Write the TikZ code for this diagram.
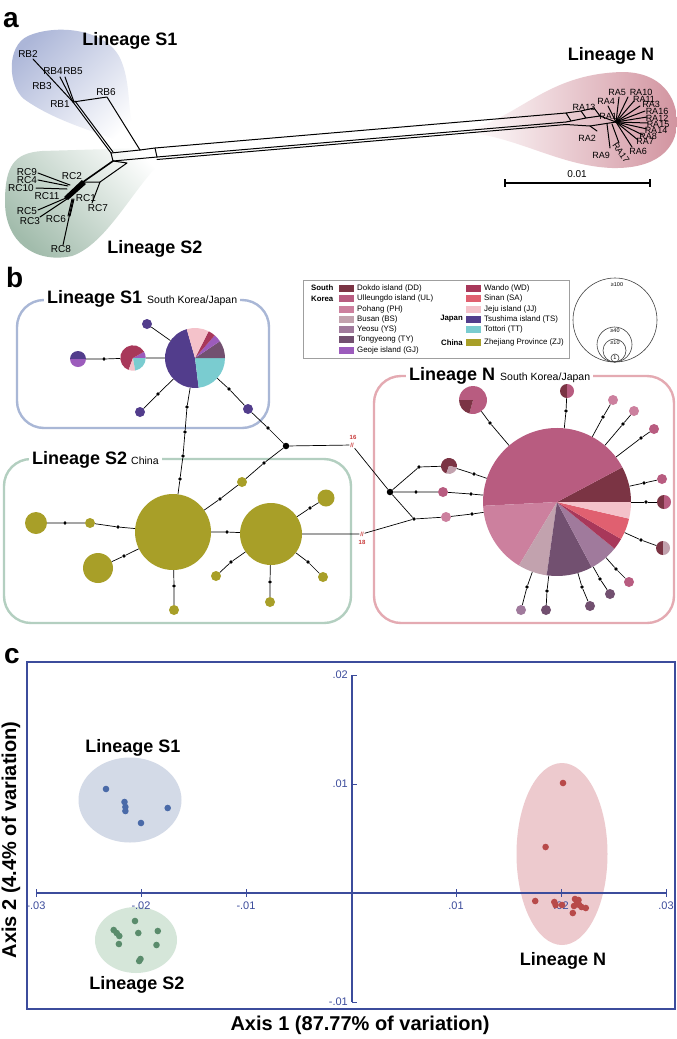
\documentclass[tikz,border=0pt]{standalone}
\usepackage{fontspec}
\setmainfont{Liberation Sans}
\usepackage{graphicx}
\newcommand\fs[1]{\fontsize{#1}{#1}\selectfont}
\newcommand\pslice[5]{\fill[#5] (#1.center) -- ++({-(#3)}:#2) arc[start angle={-(#3)}, end angle={-(#4)}, radius=#2] -- cycle;}
\definecolor{cDD}{HTML}{7B3444}
\definecolor{cUL}{HTML}{B85C80}
\definecolor{cPH}{HTML}{CC809E}
\definecolor{cBS}{HTML}{C2A2AE}
\definecolor{cYS}{HTML}{A07A9C}
\definecolor{cTY}{HTML}{725070}
\definecolor{cGJ}{HTML}{9C5CBC}
\definecolor{cWD}{HTML}{A8385A}
\definecolor{cSA}{HTML}{E06070}
\definecolor{cJJ}{HTML}{F4C2CA}
\definecolor{cTS}{HTML}{523D8C}
\definecolor{cTT}{HTML}{7ACCD0}
\definecolor{cZJ}{HTML}{A89F28}
\definecolor{S1blob}{HTML}{ACB6D8}
\definecolor{S2blob}{HTML}{A2BCAC}
\definecolor{Nblob}{HTML}{D294A0}
\definecolor{boxS1}{HTML}{A9B7D6}
\definecolor{boxS2}{HTML}{B3CFC0}
\definecolor{boxN}{HTML}{E4AAB2}
\definecolor{brkred}{HTML}{C83838}
\definecolor{axc}{HTML}{3C4C9C}
\definecolor{eS1}{HTML}{D3DAE7}
\definecolor{eS2}{HTML}{D5E6D9}
\definecolor{eN}{HTML}{EDCACE}
\definecolor{pS1}{HTML}{4A6AA8}
\definecolor{pS2}{HTML}{5A8C6C}
\definecolor{pN}{HTML}{B84A4A}
\tikzset{
 link/.style={line width=0.7pt, black},
 dotn/.style={circle, fill=black, inner sep=0pt, minimum size=3.8pt},
 jdot/.style={circle, fill=black, inner sep=0pt, minimum size=6.5pt},
 hap/.style={circle, inner sep=0pt, minimum size=#1},
 lin/.style={font=\fs{18}\bfseries, inner sep=0pt},
 rl/.style={font=\fs{10}, inner sep=0.5pt},
 ral/.style={font=\fs{9}, inner sep=0pt},
 lgt/.style={font=\fs{7.9}, anchor=west, inner sep=0pt},
 lgb/.style={font=\fs{7.8}\bfseries, inner sep=0pt},
 sw/.style={minimum width=15pt, minimum height=7pt, inner sep=0pt},
 brk/.style={font=\fs{6}\bfseries, text=brkred, inner sep=0.8pt},
 tree/.style={line width=1pt, line cap=round, line join=round},
 grpbox/.style={line width=2.4pt, rounded corners=27pt},
 ttl/.style={anchor=base west, fill=white, inner xsep=3pt, inner ysep=1pt},
 tick/.style={font=\fs{11}, text=axc, inner sep=0pt},
 plab/.style={font=\fs{28}\bfseries, anchor=base west, inner sep=0pt}
}
\begin{document}
\begin{tikzpicture}[x=1pt,y=-1pt]
\fill[white] (0,0) rectangle (677,1039);
\useasboundingbox (0,0) rectangle (677,1039);

% ================= panel a =================
\node[plab] (la) at (3,27) {a};
\shade[top color=S1blob, bottom color=white, shading angle=45] (142,150) .. controls (124,124) and (134,88) .. (120,58) .. controls (105,28) and (55,24) .. (28,36) .. controls (6,46) and (8,86) .. (24,99) .. controls (60,125) and (110,135) .. (142,150) -- cycle;
\shade[top color=white, bottom color=S2blob, shading angle=-45] (178,147) .. controls (140,172) and (112,242) .. (72,256) .. controls (35,264) and (5,242) .. (5,202) .. controls (5,166) and (14,153) .. (42,151) -- cycle;
\shade[left color=white, right color=Nblob] (466,130) .. controls (520,118) and (545,74) .. (622,72) .. controls (662,72) and (677,98) .. (677,122) .. controls (677,150) and (655,169) .. (612,168) .. controls (560,166) and (520,138) .. (466,132) -- cycle;

\node[lin, anchor=base] (aS1) at (130,45) {Lineage S1};
\node[lin, anchor=base] (aS2) at (155,253) {Lineage S2};
\node[lin, anchor=base] (aN) at (611,60) {Lineage N};

\begin{scope}[tree]
% S1 clade
\draw (33,59) -- (73,102);
\draw (60,77) -- (73,102);
\draw (65,77) -- (74,102);
\draw (73,102) -- (107,97) -- (140,150);
\draw (73,102) -- (111,153);
\draw (75,101) -- (113,152);
% central
\draw (111,153) -- (140,150);
\draw (111,153) -- (113,161) -- (157,157);
\draw (140,150) -- (155,148) -- (157,157);
\draw (113,161) -- (127,163) -- (100,182);
% long branch
\draw (155,148) -- (566,113);
\draw (157,157) -- (566,122);
\draw (157,159.5) -- (566,124.5);
% N end
\draw (566,113) -- (581,111) -- (586,118) -- (571,121) -- cycle;
\draw (581,111) -- (594,108) -- (600,116) -- (586,118);
\draw (600,116) -- (616,122);
\draw (566,122) -- (571,121);
\draw (566,124.5) -- (590,126) -- (616,122);
\draw (590,126) -- (597,131);
\foreach \e in {(608,106),(619,97),(628,97),(634,101),(640,106),(645,111),(647,117),(648,123),(647,129),(643,135),(638,140),(632,147)}
  \draw (616,122) -- \e;
\draw (607,124) -- (610,148);
\draw (612,124) -- (619,143);
% S2 clade
\draw[line width=1.6pt] (113,161) -- (83,182);
\draw (83,182) -- (100,182) -- (92,203);
\fill (82,180) -- (86,184) -- (68,200) -- (64,197) -- cycle;
\draw (38,173) -- (70,185);
\draw (38,180) -- (68,186);
\draw (36,188) -- (67,189);
\draw (38,210) -- (66,198);
\draw (40,217) -- (67,199);
\draw (72,199) -- (68,216);
\draw (74,199) -- (70,216);
\draw (63,245) -- (73,199);
\end{scope}

% tree labels
\node[rl] (RB2) at (28,54) {RB2};
\node[rl] (RB4) at (53,71) {RB4};
\node[rl] (RB5) at (73,71) {RB5};
\node[rl] (RB3) at (42,86) {RB3};
\node[rl] (RB1) at (60,104) {RB1};
\node[rl] (RB6) at (106,92) {RB6};
\node[rl] (RC9) at (27,172) {RC9};
\node[rl] (RC4) at (27,180) {RC4};
\node[rl] (RC10) at (21,188) {RC10};
\node[rl] (RC11) at (47,196) {RC11};
\node[rl] (RC2) at (72,176) {RC2};
\node[rl] (RC1) at (86,198) {RC1};
\node[rl] (RC7) at (98,208) {RC7};
\node[rl] (RC5) at (27,211) {RC5};
\node[rl] (RC3) at (30,221) {RC3};
\node[rl] (RC6) at (56,219) {RC6};
\node[rl] (RC8) at (61,249) {RC8};
\node[ral] (RA13) at (584,107) {RA13};
\node[ral] (RA4) at (606,101) {RA4};
\node[ral] (RA1) at (608,116) {RA1};
\node[ral] (RA5) at (617,92) {RA5};
\node[ral] (RA10) at (641,92) {RA10};
\node[ral] (RA11) at (644,99) {RA11};
\node[ral] (RA3) at (651,104) {RA3};
\node[ral] (RA16) at (657,111) {RA16};
\node[ral] (RA12) at (657,118) {RA12};
\node[ral] (RA15) at (658,124) {RA15};
\node[ral] (RA14) at (656,130) {RA14};
\node[ral] (RA8) at (648,136) {RA8};
\node[ral] (RA7) at (645,141) {RA7};
\node[ral] (RA6) at (638,151) {RA6};
\node[ral, rotate=-55] (RA17) at (621,153) {RA17};
\node[ral] (RA9) at (601,155) {RA9};
\node[ral] (RA2) at (587,138) {RA2};
% scale bar
\coordinate (sb1) at (505,183);
\coordinate (sb2) at (650,183);
\draw[line width=1.3pt] (sb1) -- (sb2);
\draw[line width=1.3pt] (505,179) -- (505,187);
\draw[line width=1.3pt] (650,179) -- (650,187);
\node[rl] (sbl) at (577,174) {0.01};

% ================= panel b =================
\node[plab] (lb) at (6,287) {b};
% legend
\draw[gray!75, line width=0.8pt] (303,280) rectangle (569,358);
\node[lgb, anchor=west] (kSK1) at (311,288) {South};
\node[lgb, anchor=west] (kSK2) at (311,298.5) {Korea};
\node[lgb, anchor=east] (kJP) at (463,319) {Japan};
\node[lgb, anchor=east] (kCN) at (463,342.5) {China};
\node[sw, fill=cDD] (sDD) at (346.5,288) {};   \node[lgt] at (357,288) {Dokdo island (DD)};
\node[sw, fill=cUL] (sUL) at (346.5,298.5) {}; \node[lgt] at (357,298.5) {Ulleungdo island (UL)};
\node[sw, fill=cPH] (sPH) at (346.5,309) {};   \node[lgt] at (357,309) {Pohang (PH)};
\node[sw, fill=cBS] (sBS) at (346.5,319) {};   \node[lgt] at (357,319) {Busan (BS)};
\node[sw, fill=cYS] (sYS) at (346.5,329.5) {}; \node[lgt] at (357,329.5) {Yeosu (YS)};
\node[sw, fill=cTY] (sTY) at (346.5,339.5) {}; \node[lgt] at (357,339.5) {Tongyeong (TY)};
\node[sw, fill=cGJ] (sGJ) at (346.5,350) {};   \node[lgt] at (357,350) {Geoje island (GJ)};
\node[sw, fill=cWD] (sWD) at (473.5,288) {};   \node[lgt] at (484,288) {Wando (WD)};
\node[sw, fill=cSA] (sSA) at (473.5,298.5) {}; \node[lgt] at (484,298.5) {Sinan (SA)};
\node[sw, fill=cJJ] (sJJ) at (473.5,309) {};   \node[lgt] at (484,309) {Jeju island (JJ)};
\node[sw, fill=cTS] (sTS) at (473.5,319) {};   \node[lgt] at (484,319) {Tsushima island (TS)};
\node[sw, fill=cTT] (sTT) at (473.5,329.5) {}; \node[lgt] at (484,329.5) {Tottori (TT)};
\node[sw, fill=cZJ] (sZJ) at (473.5,342.5) {}; \node[lgt] at (484,342.5) {Zhejiang Province (ZJ)};
% size legend
\draw[black!75, line width=0.6pt] (615,320) circle[radius=42];
\draw[black!75, line width=0.6pt] (614.5,344.5) circle[radius=17.5];
\draw[black!75, line width=0.6pt] (614.5,350.5) circle[radius=11.5];
\draw[black!75, line width=0.6pt] (615,358) circle[radius=4];
\node[font=\fs{5.5}, inner sep=0pt] (c100) at (617,285) {≥100};
\node[font=\fs{5.5}, inner sep=0pt] (c40) at (615,331) {≥40};
\node[font=\fs{5.5}, inner sep=0pt] (c10) at (615,342.5) {≥10};
\node[font=\fs{5.5}, inner sep=0pt] (c1) at (615,358) {1};

% group boxes
\draw[grpbox, boxS1] (17,300) rectangle (269,428);
\draw[grpbox, boxS2] (4,459) rectangle (351,623);
\draw[grpbox, boxN] (374,376) rectangle (674,623);
\node[ttl] (tS1) at (44,303) {\fs{18}\bfseries Lineage S1\hspace{5pt}\fs{10.5}\mdseries South Korea/Japan};
\node[ttl] (tS2) at (29,464) {\fs{18}\bfseries Lineage S2\hspace{4pt}\fs{10.5}\mdseries China};
\node[ttl] (tN) at (406,380) {\fs{18}\bfseries Lineage N\hspace{5pt}\fs{10.5}\mdseries South Korea/Japan};

% ---- S1 network nodes
\node[hap=60pt] (s1big) at (195,358) {};
\pslice{s1big}{30}{106}{277}{cTS}
\pslice{s1big}{30}{277}{360}{cTT}
\pslice{s1big}{30}{0}{34}{cTY}
\pslice{s1big}{30}{34}{49}{cGJ}
\pslice{s1big}{30}{49}{63}{cWD}
\pslice{s1big}{30}{63}{106}{cJJ}
\node[hap=25.4pt] (s1med) at (133,358) {};
\pslice{s1med}{12.7}{0}{30}{cGJ}
\pslice{s1med}{12.7}{30}{250}{cWD}
\pslice{s1med}{12.7}{250}{280}{cJJ}
\pslice{s1med}{12.7}{280}{360}{cTT}
\node[hap=16pt] (s1l) at (78,359) {};
\pslice{s1l}{8}{0}{180}{cTS}
\pslice{s1l}{8}{180}{360}{cGJ}
\node[hap=10pt, fill=cTS] (s1tl) at (147,324) {};
\node[hap=10pt, fill=cTS] (s1bl) at (140,412) {};
\node[hap=10pt, fill=cTS] (s1br) at (248,409) {};
\node[dotn] (d1) at (104,359) {};
\node[dotn] (d2) at (158,394) {};
\node[dotn] (d3) at (229,389) {};
\node[dotn] (d4) at (268,428) {};
\node[jdot] (J1) at (286,446) {};
\node[dotn] (d5) at (187,407) {};
\node[dotn] (d6) at (185,432) {};
\node[dotn] (d7) at (183,456) {};
\node[dotn] (d8) at (180,479) {};
\node[dotn] (d9) at (264,463) {};
\node[hap=10pt, fill=cZJ] (z1) at (242,482) {};
\node[dotn] (d10) at (220,499) {};
\node[brk] (br16) at (352,445) {//};
\node[brk] (t16) at (353,437) {16};
% ---- S2 network nodes
\node[hap=76pt, fill=cZJ] (A) at (173,532) {};
\node[hap=62pt, fill=cZJ] (B) at (271,534) {};
\node[dotn] (d11) at (227,532) {};
\node[hap=22pt, fill=cZJ] (L1) at (36,523) {};
\node[dotn] (d12) at (65,523) {};
\node[hap=10pt, fill=cZJ] (L2) at (90,523) {};
\node[dotn] (d13) at (118,527) {};
\node[hap=30pt, fill=cZJ] (L3) at (98,568) {};
\node[dotn] (d14) at (124,556) {};
\node[dotn] (d15) at (174,586) {};
\node[hap=10pt, fill=cZJ] (L4) at (174,610) {};
\node[hap=10pt, fill=cZJ] (L5) at (216,576) {};
\node[dotn] (d16) at (231,562) {};
\node[dotn] (d17) at (270,582) {};
\node[hap=10pt, fill=cZJ] (L6) at (270,602) {};
\node[dotn] (d18) at (308,562) {};
\node[hap=10pt, fill=cZJ] (L7) at (323,577) {};
\node[dotn] (d19) at (310,508) {};
\node[hap=17pt, fill=cZJ] (L8) at (326,498) {};
\node[brk] (br18) at (362,534) {//};
\node[brk] (t18) at (362,542) {18};
% ---- N network nodes
\node[jdot] (J2) at (390,492) {};
\node[dotn] (d20) at (419,467) {};
\node[hap=16pt] (PN1) at (449,466) {};
\pslice{PN1}{8}{-10}{250}{cDD}
\pslice{PN1}{8}{250}{350}{cBS}
\node[dotn] (d21) at (474,474) {};
\node[dotn] (d23) at (416,492) {};
\node[hap=10pt, fill=cUL] (N2) at (443,492) {};
\node[dotn] (d24) at (471,494) {};
\node[dotn] (d22) at (414,519) {};
\node[hap=10pt, fill=cPH] (N3) at (446,517) {};
\node[dotn] (d25) at (472,514) {};
\node[hap=148pt] (Nbig) at (557,502) {};
\pslice{Nbig}{74}{0}{28}{cDD}
\pslice{Nbig}{74}{28}{183}{cUL}
\pslice{Nbig}{74}{183}{239}{cPH}
\pslice{Nbig}{74}{239}{262}{cBS}
\pslice{Nbig}{74}{262}{298}{cTY}
\pslice{Nbig}{74}{298}{321}{cYS}
\pslice{Nbig}{74}{321}{330}{cWD}
\pslice{Nbig}{74}{330}{347}{cSA}
\pslice{Nbig}{74}{347}{360}{cJJ}
\node[hap=28pt] (PN4) at (473,400) {};
\pslice{PN4}{14}{255}{540}{cUL}
\pslice{PN4}{14}{180}{255}{cDD}
\node[dotn] (d26) at (490,423) {};
\node[hap=14pt] (PN5) at (567,391) {};
\pslice{PN5}{7}{90}{270}{cDD}
\pslice{PN5}{7}{270}{450}{cUL}
\node[dotn] (d27) at (566,411) {};
\node[hap=10pt, fill=cPH] (N6) at (613,400) {};
\node[dotn] (d28) at (603,417) {};
\node[hap=10pt, fill=cPH] (N7) at (634,411) {};
\node[dotn] (d29) at (623,424) {};
\node[hap=10pt, fill=cUL] (N8) at (654,429) {};
\node[dotn] (d30) at (641,438) {};
\node[hap=10pt, fill=cUL] (N9) at (662,479) {};
\node[dotn] (d31) at (644,483) {};
\node[hap=14pt] (PN10) at (664,502) {};
\pslice{PN10}{7}{90}{270}{cDD}
\pslice{PN10}{7}{270}{450}{cUL}
\node[dotn] (d32) at (646,502) {};
\node[hap=14pt] (PN11) at (663,548) {};
\pslice{PN11}{7}{90}{270}{cDD}
\pslice{PN11}{7}{270}{450}{cBS}
\node[dotn] (d33) at (641,540) {};
\node[hap=10pt, fill=cUL] (N12) at (629,582) {};
\node[dotn] (d34) at (616,569) {};
\node[hap=10pt, fill=cTY] (N13) at (610,594) {};
\node[dotn] (d35) at (600,579) {};
\node[hap=10pt, fill=cTY] (N14) at (590,606) {};
\node[dotn] (d36) at (582,587) {};
\node[hap=10pt, fill=cTY] (N15) at (546,610) {};
\node[dotn] (d37) at (547,591) {};
\node[hap=10pt, fill=cYS] (N16) at (521,610) {};
\node[dotn] (d38) at (527,587) {};

% ---- connectors
\begin{scope}[link]
\draw (s1l) -- (d1) -- (s1med) -- (s1big);
\draw (s1tl) -- (s1big);
\draw (s1big) -- (d2) -- (s1bl);
\draw (s1big) -- (d3) -- (s1br) -- (d4) -- (J1);
\draw (s1big) -- (d5) -- (d6) -- (d7) -- (d8) -- (A);
\draw (J1) -- (d9) -- (z1) -- (d10) -- (A);
\draw (J1) -- (br16) -- (J2);
\draw (L1) -- (d12) -- (L2) -- (d13) -- (A);
\draw (L3) -- (d14) -- (A);
\draw (A) -- (d15) -- (L4);
\draw (A) -- (d11) -- (B);
\draw (B) -- (d16) -- (L5);
\draw (B) -- (d17) -- (L6);
\draw (B) -- (d18) -- (L7);
\draw (B) -- (d19) -- (L8);
\draw (B) -- (br18) -- (d22);
\draw (J2) -- (d20) -- (PN1) -- (d21) -- (Nbig);
\draw (J2) -- (d23) -- (N2) -- (d24) -- (Nbig);
\draw (J2) -- (d22) -- (N3) -- (d25) -- (Nbig);
\draw (Nbig) -- (d26) -- (PN4);
\draw (Nbig) -- (d27) -- (PN5);
\draw (Nbig) -- (d28) -- (N6);
\draw (Nbig) -- (d29) -- (N7);
\draw (Nbig) -- (d30) -- (N8);
\draw (Nbig) -- (d31) -- (N9);
\draw (Nbig) -- (d32) -- (PN10);
\draw (Nbig) -- (d33) -- (PN11);
\draw (Nbig) -- (d34) -- (N12);
\draw (Nbig) -- (d35) -- (N13);
\draw (Nbig) -- (d36) -- (N14);
\draw (Nbig) -- (d37) -- (N15);
\draw (Nbig) -- (d38) -- (N16);
\end{scope}

% ================= panel c =================
\node[plab] (lc) at (4,663) {c};
\fill[eS1] (130,800) ellipse[x radius=51.5, y radius=42.5];
\fill[eS2] (136,940) ellipse[x radius=41, y radius=33];
\fill[eN] (562,854) ellipse[x radius=45.5, y radius=91];
\draw[axc, line width=1.3pt] (27,662) rectangle (675,1009);
\coordinate (xl) at (36,893);
\coordinate (xr) at (666,893);
\coordinate (yt) at (352,675);
\coordinate (yb) at (352,1002);
\draw[axc, line width=1.1pt] (xl) -- (xr);
\draw[axc, line width=1.1pt] (yt) -- (yb);
\foreach \x/\t in {36/-.03,141/-.02,246/-.01,456/.01,561/.02,666/.03} {
  \draw[axc, line width=1pt] (\x,889) -- (\x,897);
  \node[tick] at (\x,906) {\t};
}
\foreach \y/\t in {675/.02,784/.01,1002/-.01} {
  \draw[axc, line width=1pt] (352,\y) -- (357,\y);
  \node[tick, anchor=east] at (348,\y) {\t};
}
\foreach \p in {(106,789),(124.5,802),(125.4,807),(125.4,811),(167.7,808),(141,823)}
  \fill[pS1] \p circle[radius=3.3];
\foreach \p in {(135,921),(113.7,930),(116.7,933),(119.3,936),(138.3,933),(157.8,931),(118.9,944),(156.5,945),(139.2,961),(140.5,959)}
  \fill[pS2] \p circle[radius=3.3];
\foreach \p in {(563,783),(545.6,847),(535.2,901),(554.3,902),(555.6,905),(562,905),(575,899),(578.5,900),(574,906),(579.3,905),(581.5,907),(585.8,908),(572.8,913),(577,902)}
  \fill[pN] \p circle[radius=3.3];
\node[lin, anchor=base] (cS1) at (133,752) {Lineage S1};
\node[lin, anchor=base] (cS2) at (137,989) {Lineage S2};
\node[lin, anchor=base] (cN) at (563,965) {Lineage N};
\node[font=\fs{20}\bfseries, rotate=90, inner sep=0pt] (ax2) at (11,840) {Axis 2 (4.4\% of variation)};
\node[font=\fs{20}\bfseries, inner sep=0pt] (ax1) at (360,1025) {Axis 1 (87.77\% of variation)};
\end{tikzpicture}
\end{document}
